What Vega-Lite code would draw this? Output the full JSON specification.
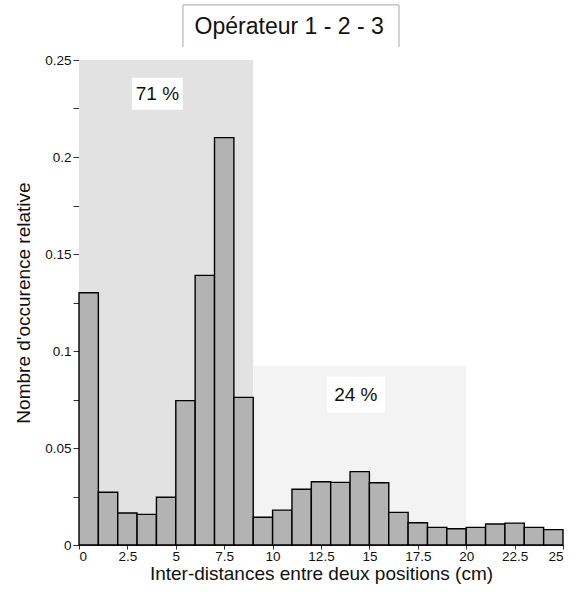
{
  "$schema": "https://vega.github.io/schema/vega-lite/v6.json",
  "width": 484,
  "height": 485,
  "autosize": "none",
  "padding": {"left": 79, "top": 60, "right": 18, "bottom": 50},
  "background": "white",
  "config": {
    "view": {"stroke": null},
    "font": "Liberation Sans",
    "axis": {
      "grid": false,
      "domainColor": "#333333",
      "tickColor": "#333333",
      "labelColor": "#111111",
      "titleColor": "#111111",
      "labelFont": "Liberation Sans",
      "titleFont": "Liberation Sans",
      "labelFontSize": 13.5,
      "titleFontSize": 19,
      "titleFontWeight": "normal",
      "labelOverlap": false
    }
  },
  "title": {
    "text": "Opérateur 1 - 2 - 3",
    "font": "Liberation Sans",
    "fontSize": 23,
    "fontWeight": "normal",
    "color": "#111111",
    "anchor": "middle",
    "frame": "bounds",
    "offset": -35
  },
  "datasets": {
    "zones": [
      {"x0": 0, "x1": 9, "y1": 0.25, "zone": "0-9 cm"},
      {"x0": 9, "x1": 20, "y1": 0.0923, "zone": "9-20 cm"}
    ],
    "bars": [
      {"x0": 0, "x1": 1, "y1": 0.130},
      {"x0": 1, "x1": 2, "y1": 0.0272},
      {"x0": 2, "x1": 3, "y1": 0.0165},
      {"x0": 3, "x1": 4, "y1": 0.0158},
      {"x0": 4, "x1": 5, "y1": 0.0246},
      {"x0": 5, "x1": 6, "y1": 0.0744},
      {"x0": 6, "x1": 7, "y1": 0.139},
      {"x0": 7, "x1": 8, "y1": 0.210},
      {"x0": 8, "x1": 9, "y1": 0.0761},
      {"x0": 9, "x1": 10, "y1": 0.0143},
      {"x0": 10, "x1": 11, "y1": 0.018},
      {"x0": 11, "x1": 12, "y1": 0.0287},
      {"x0": 12, "x1": 13, "y1": 0.0326},
      {"x0": 13, "x1": 14, "y1": 0.0323},
      {"x0": 14, "x1": 15, "y1": 0.0378},
      {"x0": 15, "x1": 16, "y1": 0.0321},
      {"x0": 16, "x1": 17, "y1": 0.0168},
      {"x0": 17, "x1": 18, "y1": 0.0115},
      {"x0": 18, "x1": 19, "y1": 0.0091},
      {"x0": 19, "x1": 20, "y1": 0.0084},
      {"x0": 20, "x1": 21, "y1": 0.0091},
      {"x0": 21, "x1": 22, "y1": 0.0108},
      {"x0": 22, "x1": 23, "y1": 0.0113},
      {"x0": 23, "x1": 24, "y1": 0.0091},
      {"x0": 24, "x1": 25, "y1": 0.0079}
    ],
    "labels": [
      {"x0": 2.73, "x1": 5.36, "y0": 0.2244, "y1": 0.2408, "xc": 4.05, "yc": 0.2326, "label": "71 %"},
      {"x0": 12.8, "x1": 15.8, "y0": 0.0683, "y1": 0.0868, "xc": 14.3, "yc": 0.0775, "label": "24 %"}
    ],
    "titlebox": [
      {"x0": 5.37, "x1": 5.37, "y0": 0.2567, "y1": 0.2784},
      {"x0": 5.37, "x1": 16.53, "y0": 0.2784, "y1": 0.2784},
      {"x0": 16.53, "x1": 16.53, "y0": 0.2567, "y1": 0.2784}
    ]
  },
  "layer": [
    {
      "data": {"name": "zones"},
      "mark": {"type": "rect"},
      "encoding": {
        "x": {"field": "x0", "type": "quantitative", "scale": {"domain": [0, 25], "nice": false, "zero": false},
          "axis": {
            "title": "Inter-distances entre deux positions (cm)",
            "values": [0, 1.25, 2.5, 3.75, 5, 6.25, 7.5, 8.75, 10, 11.25, 12.5, 13.75, 15, 16.25, 17.5, 18.75, 20, 21.25, 22.5, 23.75, 25],
            "labelExpr": "(round(datum.value * 100) % 250 == 0) ? format(datum.value, '') : ''",
            "tickSize": 4,
            "labelPadding": 0,
            "titlePadding": 2
          }},
        "x2": {"field": "x1"},
        "y": {"field": "y1", "type": "quantitative", "scale": {"domain": [0, 0.25], "nice": false, "zero": true},
          "axis": {
            "title": "Nombre d'occurence relative",
            "values": [0, 0.025, 0.05, 0.075, 0.1, 0.125, 0.15, 0.175, 0.2, 0.225, 0.25],
            "labelExpr": "(round(datum.value * 1000) % 50 == 0) ? format(datum.value, '') : ''",
            "tickSize": 6,
            "labelPadding": 2,
            "titlePadding": 11
          }},
        "y2": {"datum": 0},
        "fill": {"field": "zone", "type": "nominal", "scale": {"range": ["#e2e2e2", "#f3f3f3"]}, "legend": null}
      }
    },
    {
      "data": {"name": "bars"},
      "mark": {"type": "rect", "fill": "#b3b3b3", "stroke": "#000000", "strokeWidth": 1.4},
      "encoding": {
        "x": {"field": "x0", "type": "quantitative"},
        "x2": {"field": "x1"},
        "y": {"field": "y1", "type": "quantitative"},
        "y2": {"datum": 0}
      }
    },
    {
      "data": {"name": "labels"},
      "mark": {"type": "rect", "fill": "white"},
      "encoding": {
        "x": {"field": "x0", "type": "quantitative"},
        "x2": {"field": "x1"},
        "y": {"field": "y1", "type": "quantitative"},
        "y2": {"field": "y0"}
      }
    },
    {
      "data": {"name": "labels"},
      "mark": {"type": "text", "fontSize": 19, "font": "Liberation Sans", "color": "#111111", "align": "center", "baseline": "middle"},
      "encoding": {
        "x": {"field": "xc", "type": "quantitative"},
        "y": {"field": "yc", "type": "quantitative"},
        "text": {"field": "label"}
      }
    },
    {
      "data": {"name": "titlebox"},
      "mark": {"type": "rule", "stroke": "#b8b8b8", "strokeWidth": 1.2, "clip": false},
      "encoding": {
        "x": {"field": "x0", "type": "quantitative"},
        "x2": {"field": "x1"},
        "y": {"field": "y0", "type": "quantitative"},
        "y2": {"field": "y1"}
      }
    }
  ]
}
